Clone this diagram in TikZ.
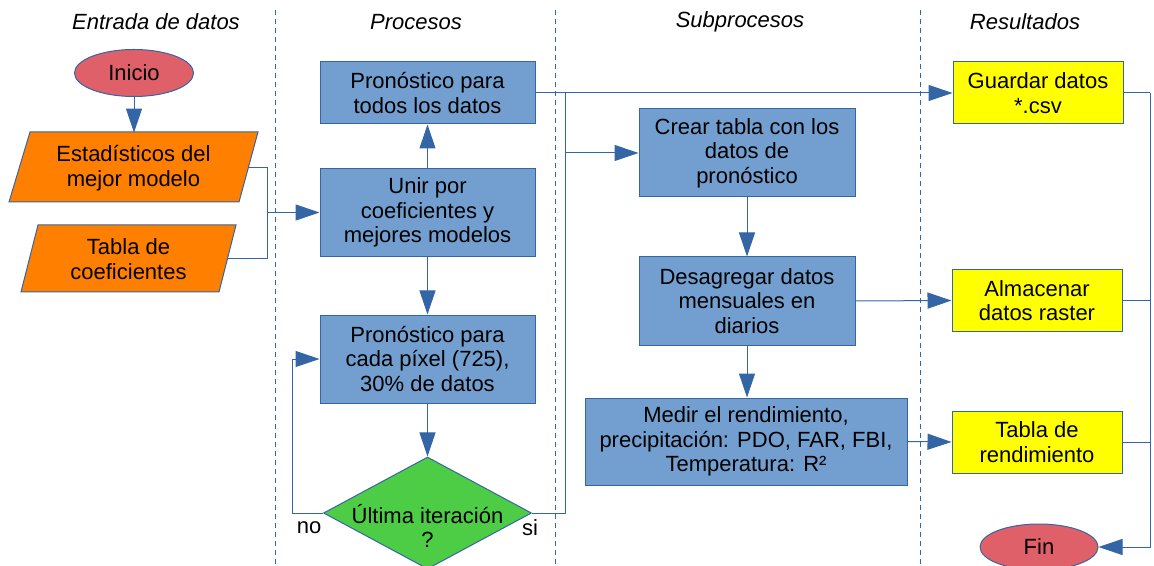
\documentclass[tikz,border=0pt]{standalone}
\usepackage{fontspec}
\setmainfont{Liberation Sans}
\usetikzlibrary{shapes.geometric,arrows.meta}
\definecolor{boxblue}{HTML}{729FCF}
\definecolor{lineblue}{HTML}{3465A4}
\definecolor{inorange}{HTML}{FF8000}
\definecolor{outyellow}{HTML}{FFFF00}
\definecolor{termred}{HTML}{E0606A}
\definecolor{testgreen}{HTML}{4DCC46}

\begin{document}
\begin{tikzpicture}[x=0.5pt,y=-0.5pt,
    every node/.style={font=\fontsize{11}{12.25}\selectfont, inner sep=0pt},
    proc/.style={rectangle, draw=lineblue, line width=0.5pt, fill=boxblue, align=center, minimum width=107.5pt, minimum height=44pt},
    result/.style={rectangle, draw=lineblue, line width=0.5pt, fill=outyellow, align=center, minimum width=85pt, minimum height=31pt},
    term/.style={ellipse, draw=lineblue, line width=0.5pt, fill=termred, minimum width=59.5pt, minimum height=23.5pt},
    datain/.style={draw=lineblue, line width=0.5pt, fill=inorange},
    test/.style={diamond, draw=lineblue, line width=0.5pt, fill=testgreen, minimum width=104pt, minimum height=56pt},
    lane/.style={lineblue, line width=0.5pt, dash pattern=on 2.5pt off 2pt},
    conn/.style={lineblue, line width=0.5pt},
    arrow/.style={conn, -{Triangle[length=12pt,width=8pt]}},
    header/.style={font=\fontsize{11}{12.25}\selectfont\itshape}]
    \useasboundingbox (0,0) rectangle (1154,566);

    % carriles
    \draw[lane] (275,10) -- (275,566);
    \draw[lane] (555,10) -- (555,566);
    \draw[lane] (920,10) -- (920,566);
    \node[header] (hentrada) at (156,22) {Entrada de datos};
    \node[header] (hprocesos) at (416,22) {Procesos};
    \node[header] (hsub) at (740,22) {Subprocesos};
    \node[header] (hres) at (1025,22) {Resultados};

    % entrada de datos
    \node[term] (inicio) at (134,73) {Inicio};
    \path[datain] (9,202) -- (30,132) -- (258,132) -- (239,202) -- cycle;
    \node[minimum width=114.5pt, minimum height=35pt, align=center] (estad) at (133.5,168) {Estadísticos del\\mejor modelo};
    \path[datain] (21,292) -- (38,225) -- (236,225) -- (219,292) -- cycle;
    \node[minimum width=99pt, minimum height=33.5pt, align=center] (tablac) at (128.5,259) {Tabla de\\coeficientes};

    % procesos
    \node[proc, minimum height=31pt] (todos) at (427.5,93) {Pronóstico para\\todos los datos};
    \node[proc] (unir) at (427.5,212.5) {Unir por\\coeficientes y\\mejores modelos};
    \node[proc] (cada) at (427.5,359) {Pronóstico para\\cada píxel (725),\\30\% de datos};
    \node[test] (iter) at (427.5,513) {};
    \node[align=center] (itertxt) at (427.5,526) {Última iteración\\?};
    \node (no) at (309,528) {no};
    \node (si) at (530,528) {si};

    % subprocesos
    \node[proc, minimum width=108pt] (crear) at (747,153) {Crear tabla con los\\datos de\\pronóstico};
    \node[proc, minimum width=108pt] (desag) at (747,301) {Desagregar datos\\mensuales en\\diarios};
    \node[proc, minimum width=161pt, minimum height=43.5pt] (medir) at (746,441.5) {Medir el rendimiento,\\precipitación: PDO, FAR, FBI,\\Temperatura: R²};

    % resultados
    \node[result] (guardar) at (1038,93) {Guardar datos\\*.csv};
    \node[result] (almac) at (1037,300.5) {Almacenar\\datos raster};
    \node[result] (tablar) at (1037,442) {Tabla de\\rendimiento};
    \node[term, minimum width=59pt, minimum height=23pt] (fin) at (1039,547) {Fin};

    % conectores
    \draw[arrow] (inicio.south) -- (inicio.south |- estad.north);
    \coordinate (join) at (267,212.5);
    \draw[conn] (estad.east) -| (join);
    \draw[conn] (tablac.east) -| (join);
    \draw[arrow] (join) -- (unir.west);
    \draw[arrow] (unir) -- (todos);
    \draw[arrow] (unir) -- (cada);
    \draw[arrow] (cada) -- (iter);
    \draw[arrow] (iter.west) -- ++(-31,0) |- (cada.west);
    \coordinate (split) at (565,93);
    \draw[arrow] (todos.east) -- (guardar.west);
    \draw[conn] (iter.east) -| (split);
    \draw[arrow] (split |- crear.west) -- (crear.west);
    \draw[arrow] (crear) -- (desag);
    \draw[arrow] (desag.south) -- (desag.south |- medir.north);
    \draw[arrow] (desag.east) -- (almac.west);
    \draw[arrow] (medir.east) -- (tablar.west);
    \coordinate (collect) at (1150,93);
    \draw[conn] (guardar.east) -- (collect);
    \draw[conn] (almac.east) -- (collect |- almac.east);
    \draw[conn] (tablar.east) -- (collect |- tablar.east);
    \draw[arrow] (collect) |- (fin.east);
\end{tikzpicture}
\end{document}
